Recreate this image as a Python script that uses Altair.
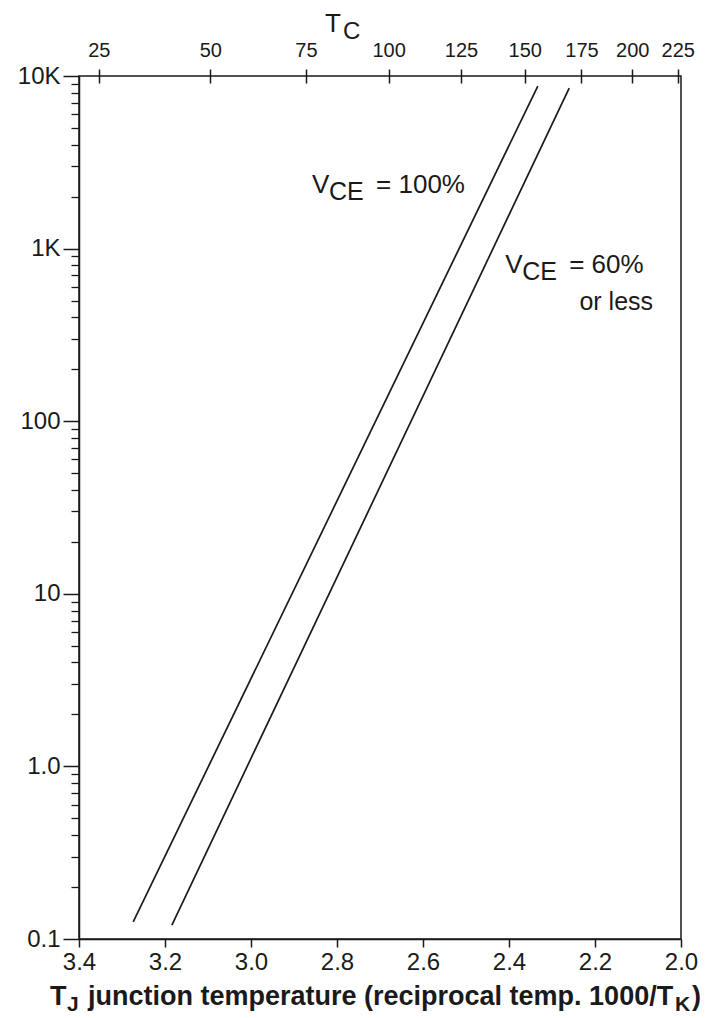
import math
import altair as alt
import pandas as pd

# ---------------- data ----------------
x_ticks = [3.4, 3.2, 3.0, 2.8, 2.6, 2.4, 2.2, 2.0]          # 1000/T_K
y_major = [10000, 1000, 100, 10, 1, 0.1]
y_major_labels = ["10K", "1K", "100", "10", "1.0", "0.1"]
tc_ticks = [25, 50, 75, 100, 125, 150, 175, 200, 225]      # case temperature, deg C

v100_x = [3.274, 2.333]
v100_y = [0.1255, 8750]
v60_x = [3.184, 2.260]
v60_y = [0.1205, 8510]

ann_x = [2.858, 2.409]
ann_y = [2100, 722]
ann_value = ["= 100%", "= 60%"]

note_x = [2.065]
note_y = [441]
note_text = ["or less"]

# ---------------- styling ----------------
INK = "#1a1a1a"
FONT = "Liberation Sans"
W, H = 602, 863

xs = alt.Scale(domain=[3.4, 2.0], nice=False, zero=False)
ys = alt.Scale(type="log", domain=[0.1, 10000], nice=False)

y_minor = [m * 10 ** e for e in range(-1, 4) for m in range(2, 10)]
tc_pos = [1000.0 / (t + 273.15) for t in tc_ticks]

label_expr = ""
for v, lab in zip(y_major, y_major_labels):
    label_expr += f"datum.value > {v / 2} ? '{lab}' : "
label_expr += "''"

lines_df = pd.DataFrame({
    "x": v100_x + v60_x,
    "y": v100_y + v60_y,
    "s": ["100"] * len(v100_x) + ["60"] * len(v60_x),
})
ann_df = pd.DataFrame({"x": ann_x, "y": ann_y, "v": ann_value})
note_df = pd.DataFrame({"x": note_x, "y": note_y, "t": note_text})

bottom_axis = alt.Axis(orient="bottom", values=x_ticks, format=".1f", title=None,
                       labelFont=FONT, labelFontSize=24, labelColor=INK, labelFlush=False,
                       tickColor=INK, tickSize=8, tickWidth=1.5, labelPadding=3,
                       domainColor=INK, domainWidth=1.5, grid=False)
left_axis = alt.Axis(orient="left", values=y_major, labelExpr=label_expr, title=None,
                     labelFont=FONT, labelFontSize=24, labelColor=INK, labelFlush=False,
                     tickColor=INK, tickSize=16, tickWidth=1.5, labelPadding=3,
                     domainColor=INK, domainWidth=1.5, grid=False)
top_axis = alt.Axis(orient="top", values=tc_pos,
                    labelExpr="format(1000 / datum.value - 273.15, '.0f')", title=None,
                    labelFont=FONT, labelFontSize=20, labelColor=INK, labelFlush=False,
                    tickColor=INK, tickSize=14, tickWidth=1.5, offset=-7,
                    labelPadding=9, domain=False, grid=False)
minor_axis = alt.Axis(orient="left", values=y_minor, labels=False, title=None,
                      tickColor=INK, tickSize=8, tickWidth=1.3, domain=False, grid=False)

lines = alt.Chart(lines_df).mark_line(color=INK, strokeWidth=1.7).encode(
    x=alt.X("x:Q", scale=xs, axis=bottom_axis),
    y=alt.Y("y:Q", scale=ys, axis=left_axis),
    detail="s:N",
)

v_txt = alt.Chart(ann_df).mark_text(text="V", align="left", baseline="alphabetic",
                                    font=FONT, fontSize=26, color=INK).encode(
    x=alt.X("x:Q", scale=xs, axis=top_axis),
    y=alt.Y("y:Q", scale=ys, axis=minor_axis),
)
ce_txt = alt.Chart(ann_df).mark_text(text="CE", align="left", baseline="alphabetic",
                                     font=FONT, fontSize=25, color=INK, dx=17, dy=7).encode(
    x=alt.X("x:Q", scale=xs, axis=None),
    y=alt.Y("y:Q", scale=ys, axis=None),
)
val_txt = alt.Chart(ann_df).mark_text(align="left", baseline="alphabetic",
                                      font=FONT, fontSize=26, color=INK, dx=64).encode(
    x=alt.X("x:Q", scale=xs, axis=None),
    y=alt.Y("y:Q", scale=ys, axis=None),
    text="v:N",
)
note_txt = alt.Chart(note_df).mark_text(align="right", baseline="alphabetic",
                                        font=FONT, fontSize=25, color=INK).encode(
    x=alt.X("x:Q", scale=xs, axis=None),
    y=alt.Y("y:Q", scale=ys, axis=None),
    text="t:N",
)


def label(txt, px, py, size, weight="normal", align="left"):
    return alt.Chart(pd.DataFrame({"t": [txt]})).mark_text(
        align=align, baseline="alphabetic", font=FONT, fontSize=size,
        fontWeight=weight, color=INK).encode(
        text="t:N", x=alt.value(px), y=alt.value(py))


# top title T_C
tc_title = [label("T", 246, -44, 26), label("C", 264, -37, 24)]
# bottom title T_J junction temperature (reciprocal temp. 1000/T_K)
bt = [
    label("T", -29, 929, 27, "bold"),
    label("J", -12, 935, 21, "bold"),
    label("junction temperature (reciprocal temp. 1000/T", 9, 929, 27, "bold"),
    label("K", 596, 935, 21, "bold"),
    label(")", 613, 929, 27, "bold"),
]

chart = alt.layer(lines, v_txt, ce_txt, val_txt, note_txt, *tc_title, *bt).resolve_axis(
    x="independent", y="independent"
).properties(
    width=W, height=H,
    autosize=alt.AutoSizeParams(type="none"),
    padding={"left": 71, "top": 68, "right": 30, "bottom": 78},
    background="white",
).configure_view(stroke=INK, strokeWidth=1.5)

chart.save("out.html", embed_options={"renderer": "svg", "actions": False})
